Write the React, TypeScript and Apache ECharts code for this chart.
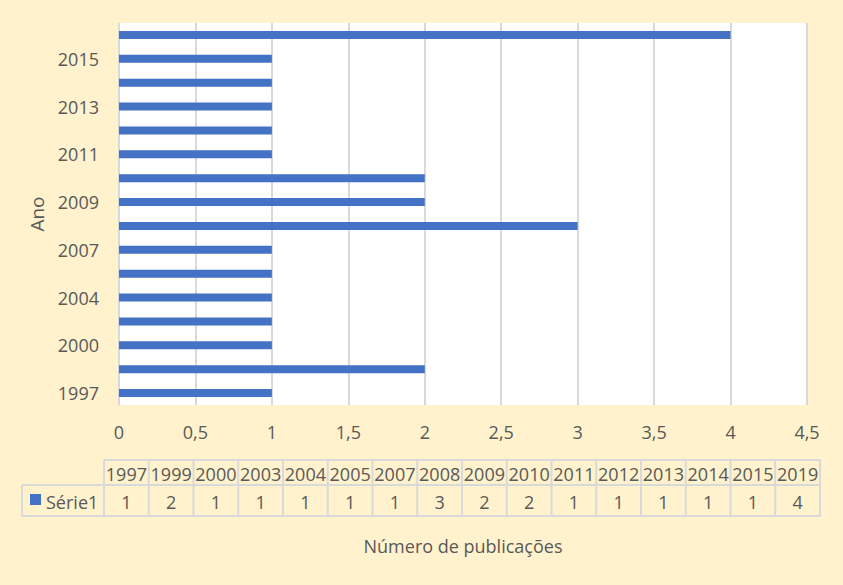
import React, { useEffect, useRef } from "react";
import * as echarts from "echarts";

const years = ["1997", "1999", "2000", "2003", "2004", "2005", "2007", "2008", "2009", "2010", "2011", "2012", "2013", "2014", "2015", "2019"];
const counts = [1, 2, 1, 1, 1, 1, 1, 3, 2, 2, 1, 1, 1, 1, 1, 4];
const seriesName = "Série1";
const xMin = 0;
const xMax = 4.5;
const xStep = 0.5;

const FONT = "'Open Sans', 'Liberation Sans', sans-serif";
const TEXT = "#595959";
const GRID = "#D9D9D9";
const BAR = "#4472C4";

export default function App() {
  const ref = useRef<HTMLDivElement>(null);
  useEffect(() => {
    if (!ref.current) return;
    const chart = echarts.init(ref.current, null, { renderer: "svg" });

    const tLeft = 104, tRight = 820, rowLeft = 22, y0 = 460, y1 = 485, y2 = 516;
    const colW = (tRight - tLeft) / years.length;
    const lineStyle = { stroke: GRID, lineWidth: 2 };
    const els: any[] = [];
    els.push({ type: "line", shape: { x1: tLeft, y1: y0, x2: tRight, y2: y0 }, style: lineStyle });
    els.push({ type: "line", shape: { x1: rowLeft, y1: y1, x2: tRight, y2: y1 }, style: lineStyle });
    els.push({ type: "line", shape: { x1: rowLeft, y1: y2, x2: tRight, y2: y2 }, style: lineStyle });
    els.push({ type: "line", shape: { x1: rowLeft, y1: y1, x2: rowLeft, y2: y2 }, style: lineStyle });
    for (let i = 0; i <= years.length; i++) {
      const x = tLeft + i * colW;
      els.push({ type: "line", shape: { x1: x, y1: y0, x2: x, y2: y2 }, style: lineStyle });
    }
    years.forEach((y, i) => {
      const cx = tLeft + (i + 0.5) * colW;
      els.push({ type: "text", x: cx, y: (y0 + y1) / 2 + 1, style: { text: y, fill: TEXT, font: `18px ${FONT}`, align: "center", verticalAlign: "middle" } });
      els.push({ type: "text", x: cx, y: (y1 + y2) / 2 + 1, style: { text: String(counts[i]), fill: TEXT, font: `18px ${FONT}`, align: "center", verticalAlign: "middle" } });
    });
    els.push({ type: "rect", shape: { x: 30, y: 494, width: 11, height: 11 }, style: { fill: BAR } });
    els.push({ type: "text", x: 46, y: (y1 + y2) / 2 + 1, style: { text: seriesName, fill: TEXT, font: `18px ${FONT}`, align: "left", verticalAlign: "middle" } });

    chart.setOption({
      animation: false,
      backgroundColor: "#FFF2CC",
      textStyle: { fontFamily: FONT },
      grid: { left: 119, top: 23, width: 688, height: 382, show: true, backgroundColor: "#FFFFFF", borderWidth: 0 },
      xAxis: {
        type: "value",
        min: xMin,
        max: xMax,
        interval: xStep,
        name: "Número de publicações",
        nameLocation: "middle",
        nameGap: 132,
        nameTextStyle: { color: TEXT, fontSize: 18, fontFamily: FONT },
        axisLine: { show: false },
        axisTick: { show: false },
        axisLabel: { color: TEXT, fontSize: 18, margin: 18, fontFamily: FONT, formatter: (v: number) => String(v).replace(".", ",") },
        splitLine: { show: true, lineStyle: { color: GRID, width: 2 } },
      },
      yAxis: {
        type: "category",
        data: years,
        name: "Ano",
        nameLocation: "middle",
        nameGap: 71,
        nameTextStyle: { color: TEXT, fontSize: 19, fontFamily: FONT },
        axisLine: { show: false },
        axisTick: { show: false },
        axisLabel: { color: TEXT, fontSize: 18, margin: 20, interval: 1, fontFamily: FONT },
        splitLine: { show: false },
      },
      series: [
        { type: "bar", name: seriesName, data: counts, barWidth: 8, itemStyle: { color: BAR } },
      ],
      graphic: els,
    });
    return () => chart.dispose();
  }, []);
  return <div ref={ref} style={{ position: "fixed", left: 0, top: 0, width: 843, height: 585 }} />;
}
